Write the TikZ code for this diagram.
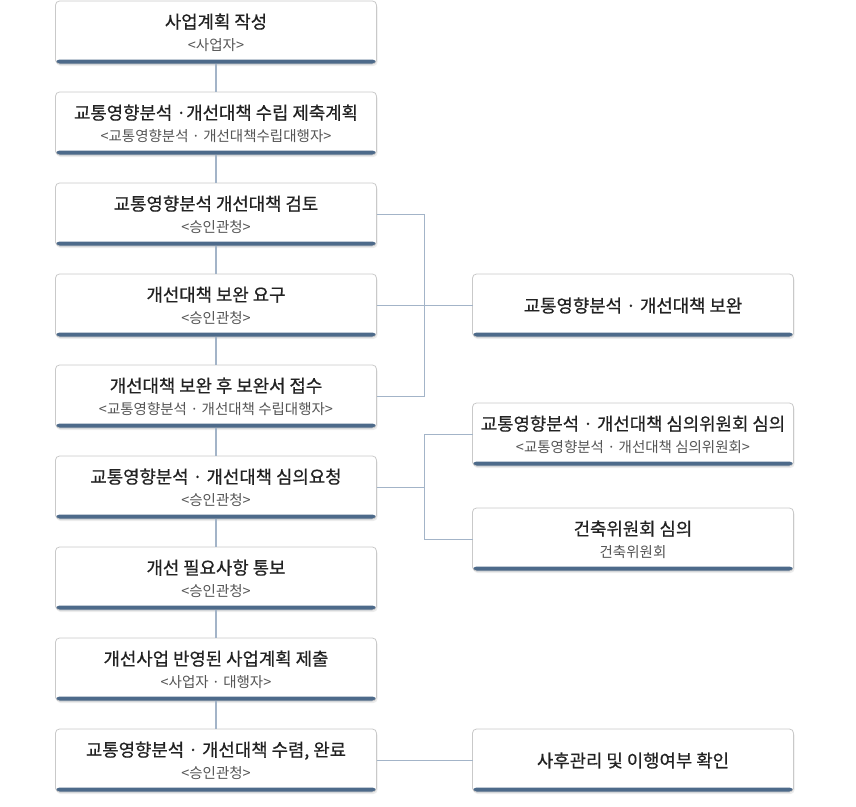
\documentclass[tikz,border=0pt]{standalone}
\usepackage{fontspec}
\setmainfont{Noto Sans CJK KR}
\newfontfamily\titlefont{Noto Sans CJK KR}[FakeBold=0.6]
\usetikzlibrary{positioning, shadows, calc}
\definecolor{band}{HTML}{4D6A8A}
\definecolor{link}{HTML}{A3B4C8}
\definecolor{rim}{HTML}{C9C9C9}
\definecolor{ink}{HTML}{222222}
\definecolor{subink}{HTML}{555555}
\newcommand{\subline}[1]{\\[1pt]{\fontsize{14.5}{16}\normalfont\color{subink}#1}}
\tikzset{
    box/.style={draw=rim, line width=0.8pt, fill=white, rounded corners=4pt,
        minimum width=321pt, minimum height=63pt, inner sep=0pt, outer sep=0pt,
        align=center, font=\fontsize{17.8}{21}\titlefont, text=ink,
        drop shadow={opacity=0.15, shadow xshift=1pt, shadow yshift=-2pt},
        path picture={\fill[band] (path picture bounding box.south west)
            rectangle ([yshift=4.5pt]path picture bounding box.south east);}},
    link/.style={draw=link, line width=1.2pt}
}

\begin{document}
\begin{tikzpicture}[node distance=28pt and 96pt]
                \useasboundingbox (0,0) rectangle (856pt,-806pt);
                \node[box] (1) at (216pt,-32.5pt) {사업계획 작성\subline{<사업자>}};
                \node[box] (2) [below=of 1] {교통영향분석 ·개선대책 수립 제축계획\subline{<교통영향분석 · 개선대책수립대행자>}};
                \node[box] (3) [below=of 2] {교통영향분석 개선대책 검토\subline{<승인관청>}};
                \node[box] (4) [below=of 3] {개선대책 보완 요구\subline{<승인관청>}};
                \node[box] (5) [below=of 4] {개선대책 보완 후 보완서 접수\subline{<교통영향분석 · 개선대책 수립대행자>}};
                \node[box] (6) [below=of 5] {교통영향분석 · 개선대책 심의요청\subline{<승인관청>}};
                \node[box] (7) [below=of 6] {개선 필요사항 통보\subline{<승인관청>}};
                \node[box] (8) [below=of 7] {개선사업 반영된 사업계획 제출\subline{<사업자 · 대행자>}};
                \node[box] (9) [below=of 8] {교통영향분석 · 개선대책 수렴, 완료\subline{<승인관청>}};
                \node[box] (a) [right=of 4] {교통영향분석 · 개선대책 보완};
                \node[box] (b) [right=of 5, yshift=-38pt] {교통영향분석 · 개선대책 심의위원회 심의\subline{<교통영향분석 · 개선대책 심의위원회>}};
                \node[box] (c) [below=42pt of b] {건축위원회 심의\subline{건축위원회}};
                \node[box] (d) [right=of 9] {사후관리 및 이행여부 확인};
                \coordinate (j1) at ($(3.east)!0.5!(a.west)$);
                \coordinate (j2) at ($(6.east)!0.5!(b.west)$);
                \foreach \i [count=\n from 2] in {1,...,8}
                    \draw[link] (\i.south) -- (\n.north);
                \draw[link] (3.east) -| (j1) |- (5.east);
                \draw[link] (4.east) -- (a.west);
                \draw[link] (6.east) -- (6.east -| j2);
                \draw[link] (b.west) -| (j2) |- (c.west);
                \draw[link] (9.east) -- (d.west);
            \end{tikzpicture}
\end{document}
